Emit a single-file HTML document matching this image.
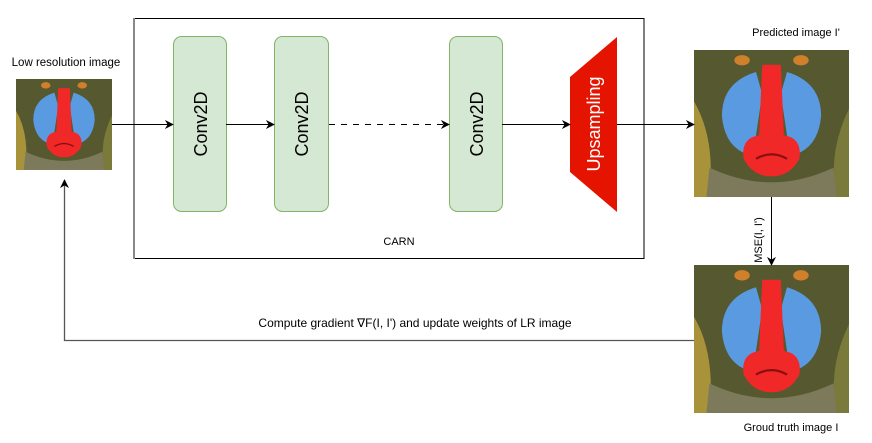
<!DOCTYPE html>
<html><head><meta charset="utf-8"><style>
html,body{margin:0;padding:0;background:#fff;}
body{width:872px;height:443px;position:relative;overflow:hidden;font-family:"Liberation Sans",sans-serif;}
</style></head><body>
<svg width="872" height="443" viewBox="0 0 872 443" xmlns="http://www.w3.org/2000/svg" style="position:absolute;left:0;top:0">
<defs>
<symbol id="m" viewBox="0 0 100 100" preserveAspectRatio="none">
<rect width="100" height="100" fill="#56582f"/>
<path d="M0 35 Q14 60 10 100 L0 100Z" fill="#a8923a"/>
<path d="M100 40 Q86 70 92 100 L100 100Z" fill="#7a7a3a"/>
<path d="M10 80 Q50 100 90 80 L92 100 L8 100Z" fill="#7c7a5a"/>
<ellipse cx="31" cy="7" rx="5" ry="3.5" fill="#d0802a"/>
<ellipse cx="69" cy="7" rx="5" ry="3.5" fill="#d0802a"/>
<path d="M40 15 Q18 22 18 45 Q20 68 38 72 L44 30Z" fill="#5a9ae0"/>
<path d="M60 15 Q82 22 82 45 Q80 68 62 72 L56 30Z" fill="#5a9ae0"/>
<path d="M44 10 L56 10 L58 58 Q70 60 68 74 Q62 86 50 86 Q38 86 32 74 Q30 60 42 58Z" fill="#f02828"/>
<path d="M40 74 Q50 68 60 74" stroke="#8a1010" stroke-width="1.5" fill="none"/>
</symbol>
<marker id="a" viewBox="0 0 10 10" refX="9" refY="5" markerWidth="9" markerHeight="9" markerUnits="userSpaceOnUse" orient="auto"><path d="M0 0 L10 5 L0 10 L3 5Z" fill="#000"/></marker>
</defs>
<rect x="134" y="18.5" width="510" height="240" fill="none" stroke="#000" stroke-width="1"/>
<line x1="134" y1="18" x2="134" y2="259" stroke="#888" stroke-width="2"/>
<text x="399" y="245" font-size="11" text-anchor="middle">CARN</text>

<use href="#m" x="16" y="79" width="96" height="91"/>
<text x="66" y="66" font-size="11.5" text-anchor="middle">Low resolution image</text>

<use href="#m" x="694" y="50" width="155" height="147"/>
<text x="796" y="36" font-size="11" text-anchor="middle">Predicted image I'</text>
<use href="#m" x="694" y="265" width="155" height="148"/>
<text x="791" y="431" font-size="11" text-anchor="middle">Groud truth image I</text>

<g fill="#d5e8d4" stroke="#82b366" stroke-width="1">
<rect x="173.5" y="36.5" width="53" height="175" rx="8"/>
<rect x="274.5" y="36.5" width="54" height="175" rx="8"/>
<rect x="449.5" y="36.5" width="53" height="175" rx="8"/>
</g>
<g font-size="18" text-anchor="middle">
<text transform="translate(207,124) rotate(-90)">Conv2D</text>
<text transform="translate(308,124) rotate(-90)">Conv2D</text>
<text transform="translate(483,124) rotate(-90)">Conv2D</text>
</g>
<path d="M570 77 L617 37 L617 212 L570 172Z" fill="#e51400"/>
<text transform="translate(600,124) rotate(-90)" font-size="18" fill="#fff" text-anchor="middle">Upsampling</text>

<g stroke="#000" stroke-width="1" fill="none">
<line x1="112" y1="124.5" x2="173" y2="124.5" marker-end="url(#a)"/>
<line x1="226" y1="124.5" x2="274" y2="124.5" marker-end="url(#a)"/>
<line x1="329" y1="124.5" x2="449" y2="124.5" stroke-dasharray="6,6" marker-end="url(#a)"/>
<line x1="502" y1="124.5" x2="570" y2="124.5" marker-end="url(#a)"/>
<line x1="617" y1="124.5" x2="694" y2="124.5" marker-end="url(#a)"/>
<line x1="771.5" y1="197" x2="771.5" y2="265" marker-end="url(#a)"/>
</g>
<path d="M694 340.5 L64.5 340.5 L64.5 180" stroke="#555" stroke-width="1.3" fill="none" marker-end="url(#a)"/>
<text transform="translate(762,240) rotate(-90)" font-size="11" text-anchor="middle">MSE(I, I')</text>
<text x="415" y="327" font-size="12" text-anchor="middle">Compute gradient  ∇F(I, I') and update weights of LR image</text>
</svg>
</body></html>
